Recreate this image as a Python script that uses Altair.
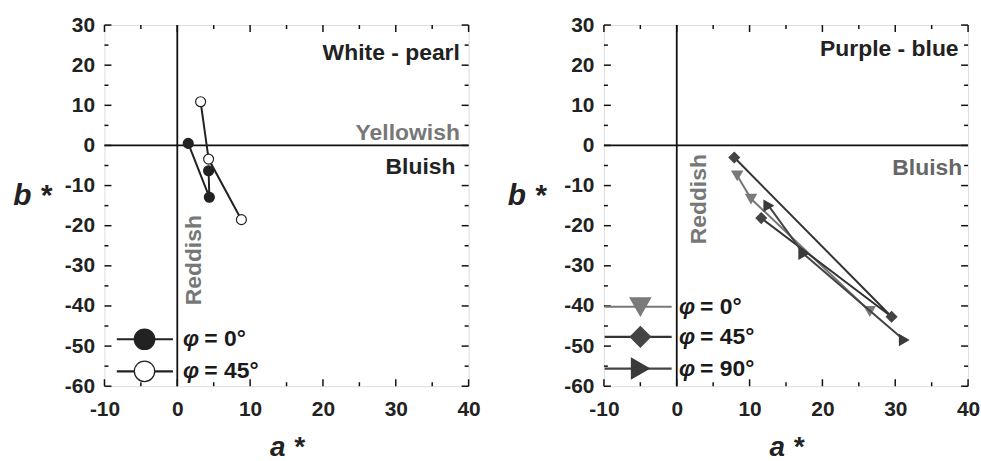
import altair as alt
import pandas as pd

# ---------------- data ----------------
# Left panel (White-pearl)
L0_a = [1.5, 4.4, 4.3]
L0_b = [0.5, -12.9, -6.3]
L45_a = [3.2, 4.3, 8.8]
L45_b = [10.9, -3.4, -18.5]

# Right panel (Purple-blue)
R0_a = [8.3, 10.2, 26.5]
R0_b = [-7.5, -13.3, -41.3]
R45_a = [7.9, 29.5, 11.6]
R45_b = [-3.0, -42.7, -18.1]
R90_a = [12.6, 17.4, 31.2]
R90_b = [-15.0, -27.0, -48.5]

x_major = [-10, 0, 10, 20, 30, 40]
x_minor = [-5, 5, 15, 25, 35]
y_major = [-60, -50, -40, -30, -20, -10, 0, 10, 20, 30]
y_minor = [-55, -45, -35, -25, -15, -5, 5, 15, 25]

FONT = "Liberation Sans"
DARK = "#222222"
GRAY = "#777777"
W, H = 366, 363

xs = alt.Scale(domain=[-10, 40], nice=False, zero=False)
ys = alt.Scale(domain=[-60, 30], nice=False, zero=False)


def x_axis():
    return alt.Axis(values=x_major, ticks=False, domain=False, grid=False,
                    labelExpr="'' + datum.value", labelFont=FONT, labelFontWeight="bold",
                    labelFontSize=21, labelColor=DARK, labelPadding=12, labelFlush=False,
                    title="a *", titleFont=FONT, titleFontWeight="bold", titleFontStyle="italic",
                    titleFontSize=28, titleColor=DARK, titlePadding=15)


def y_axis(tx):
    return alt.Axis(values=y_major, ticks=False, domain=False, grid=False,
                    labelExpr="'' + datum.value", labelFont=FONT, labelFontWeight="bold",
                    labelFontSize=21, labelColor=DARK, labelPadding=10, labelFlush=False,
                    title="b *", titleFont=FONT, titleFontWeight="bold", titleFontStyle="italic",
                    titleFontSize=30, titleColor=DARK, titleAngle=0, titleX=tx, titleY=171,
                    titleAlign="center", titleBaseline="middle")


def X(f, tx):
    return alt.X(f, type="quantitative", scale=xs, axis=x_axis())


def Y(f, tx):
    return alt.Y(f, type="quantitative", scale=ys, axis=y_axis(tx))


def panel(series, notes, tx):
    layers = []
    zero = pd.DataFrame({"v": [0]})
    layers.append(alt.Chart(zero).mark_rule(color="#111", strokeWidth=1.8)
                  .encode(x=X("v", tx)))
    layers.append(alt.Chart(zero).mark_rule(color="#111", strokeWidth=1.8)
                  .encode(y=Y("v", tx)))
    # inward ticks on all four sides
    for vals, ln in ((x_major, 7), (x_minor, 4)):
        d = pd.DataFrame({"v": vals})
        layers.append(alt.Chart(d).mark_rule(color="#111", strokeWidth=1.5)
                      .encode(x=X("v", tx), y=alt.value(H), y2=alt.value(H - ln)))
        layers.append(alt.Chart(d).mark_rule(color="#111", strokeWidth=1.5)
                      .encode(x=X("v", tx), y=alt.value(0), y2=alt.value(ln)))
    for vals, ln in ((y_major, 7), (y_minor, 4)):
        d = pd.DataFrame({"v": vals})
        layers.append(alt.Chart(d).mark_rule(color="#111", strokeWidth=1.5)
                      .encode(y=Y("v", tx), x=alt.value(0), x2=alt.value(ln)))
        layers.append(alt.Chart(d).mark_rule(color="#111", strokeWidth=1.5)
                      .encode(y=Y("v", tx), x=alt.value(W), x2=alt.value(W - ln)))
    # annotations
    for txt, a, b, col, align, ang in notes:
        d = pd.DataFrame({"t": [txt], "a": [a], "b": [b]})
        layers.append(alt.Chart(d).mark_text(font=FONT, fontWeight="bold", fontSize=23,
                                             color=col, align=align, baseline="middle", angle=ang)
                      .encode(x=X("a", tx), y=Y("b", tx), text="t:N"))
    # series + manual legend
    for s in series:
        d = pd.DataFrame({"a": s["a"], "b": s["b"], "o": list(range(len(s["a"])))})
        layers.append(alt.Chart(d).mark_line(color=s["line"], strokeWidth=s["lw"])
                      .encode(x=X("a", tx), y=Y("b", tx), order="o:Q"))
        layers.append(alt.Chart(d).mark_point(shape=s["shape"], filled=True, fill=s["fill"],
                                              stroke=s["stroke"], strokeWidth=1.2, size=s["size"], opacity=1)
                      .encode(x=X("a", tx), y=Y("b", tx)))
        lg = s["leg"]
        dl = pd.DataFrame({"a": [lg["a1"]], "a2": [lg["a2"]], "b": [lg["b"]]})
        layers.append(alt.Chart(dl).mark_rule(color=s["line"], strokeWidth=2.2)
                      .encode(x=X("a", tx), x2="a2:Q", y=Y("b", tx)))
        dm = pd.DataFrame({"a": [lg["am"]], "b": [lg["b"]]})
        layers.append(alt.Chart(dm).mark_point(shape=s["shape"], filled=True, fill=s["fill"],
                                               stroke=s["stroke"], strokeWidth=1.3, size=s["lsize"], opacity=1)
                      .encode(x=X("a", tx), y=Y("b", tx)))
        dphi = pd.DataFrame({"t": ["φ"], "a": [lg["at"]], "b": [lg["b"]]})
        layers.append(alt.Chart(dphi).mark_text(font=FONT, fontWeight="bold", fontStyle="italic",
                                                fontSize=23, color="#1a1a1a", align="left",
                                                baseline="middle")
                      .encode(x=X("a", tx), y=Y("b", tx), text="t:N"))
        dt = pd.DataFrame({"t": [s["name"]], "a": [lg["at"] + 2.9], "b": [lg["b"]]})
        layers.append(alt.Chart(dt).mark_text(font=FONT, fontWeight="bold", fontSize=23,
                                              color="#1a1a1a", align="left", baseline="middle")
                      .encode(x=X("a", tx), y=Y("b", tx), text="t:N"))
    return alt.layer(*layers).properties(width=W, height=H)


left_series = [
    dict(name="= 0°", a=L0_a, b=L0_b, shape="circle", fill="#222", stroke="#222", line="#222",
         lw=2, size=100, lsize=420, leg=dict(a1=-8.3, a2=-0.6, am=-4.5, at=0.8, b=-48.3)),
    dict(name="= 45°", a=L45_a, b=L45_b, shape="circle", fill="white", stroke="#222", line="#222",
         lw=2, size=100, lsize=420, leg=dict(a1=-8.3, a2=-0.6, am=-4.5, at=0.8, b=-56.3)),
]
left_notes = [
    ("White - pearl", 38.8, 23.0, DARK, "right", 0),
    ("Yellowish", 38.8, 3.0, GRAY, "right", 0),
    ("Bluish", 38.2, -5.3, DARK, "right", 0),
    ("Reddish", 2.3, -28.6, GRAY, "center", 270),
]

right_series = [
    dict(name="= 0°", a=R0_a, b=R0_b, shape="triangle-down", fill="#7a7a7a", stroke="#7a7a7a",
         line="#777", lw=2, size=110, lsize=420, leg=dict(a1=-9.9, a2=-0.7, am=-5.0, at=0.3, b=-40.2)),
    dict(name="= 45°", a=R45_a, b=R45_b, shape="diamond", fill="#444", stroke="#444",
         line="#333", lw=2, size=110, lsize=420, leg=dict(a1=-9.9, a2=-0.7, am=-5.0, at=0.3, b=-47.7)),
    dict(name="= 90°", a=R90_a, b=R90_b, shape="triangle-right", fill="#3a3a3a", stroke="#3a3a3a",
         line="#444", lw=2, size=110, lsize=420, leg=dict(a1=-9.9, a2=-0.7, am=-5.0, at=0.3, b=-55.6)),
]
right_notes = [
    ("Purple - blue", 38.7, 24.0, DARK, "right", 0),
    ("Bluish", 39.2, -5.7, "#666666", "right", 0),
    ("Reddish", 3.0, -13.4, GRAY, "center", 270),
]

left = panel(left_series, left_notes, -73)
right = panel(right_series, right_notes, -78)

chart = alt.hconcat(left, right, spacing=25).properties(
    padding={"left": 12, "top": 12, "right": 0, "bottom": 0}
).configure_view(stroke="#111", strokeWidth=2).configure(background="white")

chart.save("out.html", embed_options={"renderer": "svg", "actions": False})
